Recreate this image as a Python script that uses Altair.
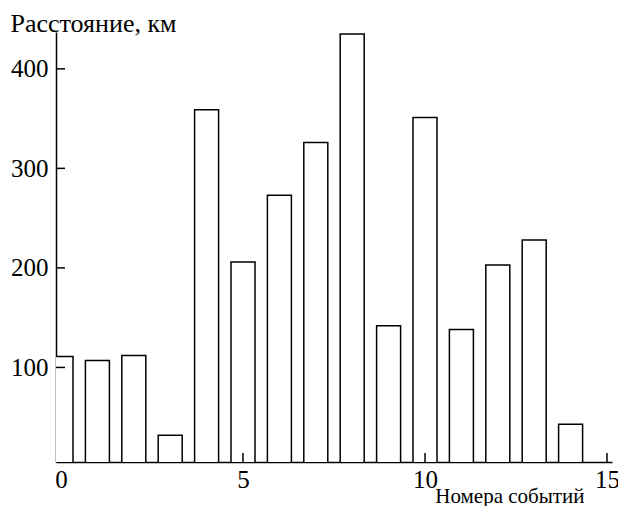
import altair as alt
import pandas as pd

events = list(range(15))
distances = [111, 107, 112, 32, 359, 206, 273, 326, 435, 142, 351, 138, 203, 228, 43]
y_ticks = [100, 200, 300, 400]
x_ticks = [0, 5, 10, 15]
x_inner_ticks = [5, 10, 15]
y_title = "Расстояние, км"
x_title = "Номера событий"

df = pd.DataFrame({"event": events, "distance": distances})
yt = pd.DataFrame({"distance": y_ticks})
xt = pd.DataFrame({"event": x_inner_ticks})

FONT = "Liberation Serif"
W, H = 556, 430

xscale = alt.Scale(domain=[0, 15], nice=False, zero=False)
yscale = alt.Scale(domain=[5, 437], nice=False, zero=False)

xaxis = alt.Axis(values=x_ticks, labelPadding=5, labelBaseline="top",
                 labelFlush=True, labelFlushOffset=0,
                 title=x_title, titleAlign="right", titleBaseline="alphabetic",
                 titleX=528, titleY=40, titleFontSize=21)
yaxis = alt.Axis(values=y_ticks, labelPadding=8,
                 title=y_title, titleAlign="left", titleBaseline="alphabetic",
                 titleX=-46, titleY=-1, titleFontSize=26)

bars = alt.Chart(df).transform_calculate(base="0").mark_bar(
    width=24, fill="white", stroke="black", strokeWidth=1.5, clip=True
).encode(
    x=alt.X("event:Q", scale=xscale, axis=xaxis),
    y=alt.Y("distance:Q", scale=yscale, axis=yaxis),
    y2="base:Q",
)

ytick_layer = alt.Chart(yt).mark_rule(color="black", strokeWidth=1.5).encode(
    y=alt.Y("distance:Q", scale=yscale, title=y_title),
    x=alt.value(0),
    x2=alt.value(9),
)
xtick_layer = alt.Chart(xt).mark_rule(color="black", strokeWidth=1.5).encode(
    x=alt.X("event:Q", scale=xscale, title=x_title),
    y=alt.value(H),
    y2=alt.value(H - 9),
)

chart = alt.layer(bars, ytick_layer, xtick_layer).properties(
    width=W, height=H,
    padding={"left": 48, "top": 24, "right": 6, "bottom": 44},
    autosize=alt.AutoSizeParams(type="none"),
    background="white",
).configure_view(stroke=None).configure_axis(
    ticks=False, grid=False, domainColor="black", domainWidth=1.5,
    labelFont=FONT, labelFontSize=25, labelColor="black",
    titleFont=FONT, titleFontWeight="normal", titleColor="black",
    titleAngle=0,
)

chart.save("out.html", embed_options={"renderer": "svg", "actions": False})
